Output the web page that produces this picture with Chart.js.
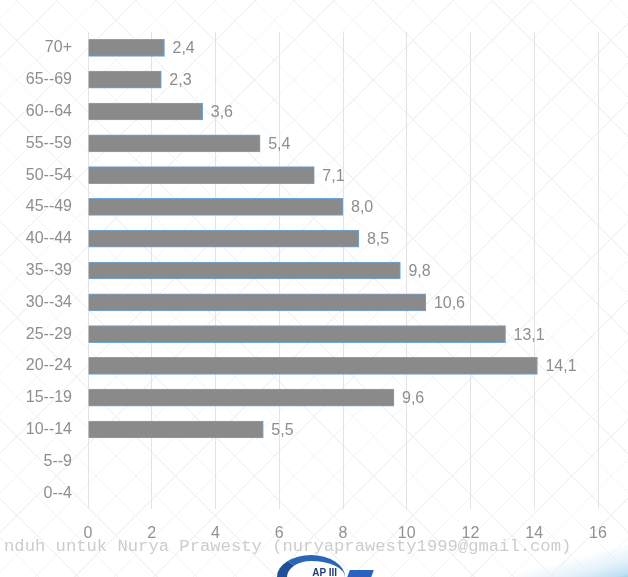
<!DOCTYPE html>
<html lang="id">
<head>
    <meta charset="UTF-8">
    <title>Kelompok umur</title>
    <script src="https://cdn.jsdelivr.net/npm/chart.js"></script>
    <style>
        body {
            margin: 0;
            background: #fff;
        }
        .wrap {
            position: relative;
            width: 628px;
            height: 577px;
            overflow: hidden;
            background-color: #fff;
            background-image:
                repeating-linear-gradient(45deg, transparent 0 27px, #f4f4f4 27px 28px),
                repeating-linear-gradient(-45deg, transparent 0 27px, #f4f4f4 27px 28px);
        }
        canvas {
            position: absolute;
            left: 0;
            top: 0;
        }
        .watermark {
            position: absolute;
            left: 4px;
            top: 537px;
            font-family: "Liberation Mono", monospace;
            font-size: 17.2px;
            color: #cdcdcd;
            white-space: nowrap;
        }
        .logo {
            position: absolute;
            left: 277px;
            top: 555px;
            width: 68px;
            height: 44px;
            border-radius: 50%;
            border-left: 10px solid #1f4f99;
            border-top: 6px solid #2a66b8;
            font-family: Arial, sans-serif;
            font-size: 10px;
            font-weight: bold;
            color: #1f3f7a;
            text-align: right;
            padding: 6px 8px 0 0;
            box-sizing: border-box;
            line-height: 12px;
        }
        .logo-bar {
            position: absolute;
            left: 348px;
            top: 570px;
            width: 24px;
            height: 10px;
            background: #2a62c0;
            transform: skewX(-20deg);
        }
        .corner {
            position: absolute;
            left: 500px;
            top: 545px;
            width: 140px;
            height: 34px;
            background: linear-gradient(165deg, rgba(255,255,255,0) 45%, #e3f1fa 70%, #bfe0f3 88%, #6fc0d8);
        }
    </style>
</head>
<body>
<div class="wrap">
    <canvas id="ageChart" width="628" height="577"></canvas>
    <div class="watermark">nduh untuk Nurya Prawesty (nuryaprawesty1999@gmail.com)</div>
    <div class="corner"></div>
    <div class="logo">AP III</div>
    <div class="logo-bar"></div>
</div>

<script>
    const ageGroups = ['70+', '65--69', '60--64', '55--59', '50--54', '45--49', '40--44',
        '35--39', '30--34', '25--29', '20--24', '15--19', '10--14', '5--9', '0--4'];
    const percentages = [2.4, 2.3, 3.6, 5.4, 7.1, 8.0, 8.5, 9.8, 10.6, 13.1, 14.1, 9.6, 5.5, null, null];
    const xTicks = [0, 2, 4, 6, 8, 10, 12, 14, 16];

    // draw value labels next to each bar, comma as decimal sign
    const barLabels = {
        id: 'barLabels',
        afterDatasetsDraw(chart) {
            const ctx = chart.ctx;
            const meta = chart.getDatasetMeta(0);
            ctx.save();
            ctx.font = '16px "Liberation Sans", Arial, sans-serif';
            ctx.fillStyle = '#8e8e8e';
            ctx.textAlign = 'left';
            ctx.textBaseline = 'middle';
            meta.data.forEach((bar, i) => {
                const v = percentages[i];
                if (v === null) return;
                ctx.fillText(v.toFixed(1).replace('.', ','), bar.x + 8, bar.y + 1);
            });
            ctx.restore();
        }
    };

    const ctx = document.getElementById('ageChart').getContext('2d');
    new Chart(ctx, {
        type: 'bar',
        data: {
            labels: ageGroups,
            datasets: [{
                data: percentages,
                backgroundColor: '#8a8a8a',
                borderColor: '#6ea6d6',
                borderWidth: 1,
                barThickness: 17
            }]
        },
        options: {
            indexAxis: 'y',
            responsive: false,
            animation: false,
            layout: {
                padding: {top: 32, right: 30, left: 0, bottom: 0}
            },
            plugins: {
                legend: {display: false},
                tooltip: {enabled: false}
            },
            scales: {
                x: {
                    min: 0,
                    max: 16,
                    afterBuildTicks(axis) {
                        axis.ticks = xTicks.map(v => ({value: v}));
                    },
                    afterFit(axis) {
                        axis.height = 68;
                    },
                    grid: {
                        color: '#e3e3e3',
                        drawTicks: false
                    },
                    border: {display: false},
                    ticks: {
                        color: '#929292',
                        padding: 15,
                        font: {family: '"Liberation Sans", Arial, sans-serif', size: 16}
                    }
                },
                y: {
                    afterFit(axis) {
                        axis.width = 88;
                    },
                    grid: {display: false, drawTicks: false},
                    border: {display: false},
                    ticks: {
                        color: '#8e8e8e',
                        padding: 16,
                        font: {family: '"Liberation Sans", Arial, sans-serif', size: 16}
                    }
                }
            }
        },
        plugins: [barLabels]
    });
</script>
</body>
</html>
